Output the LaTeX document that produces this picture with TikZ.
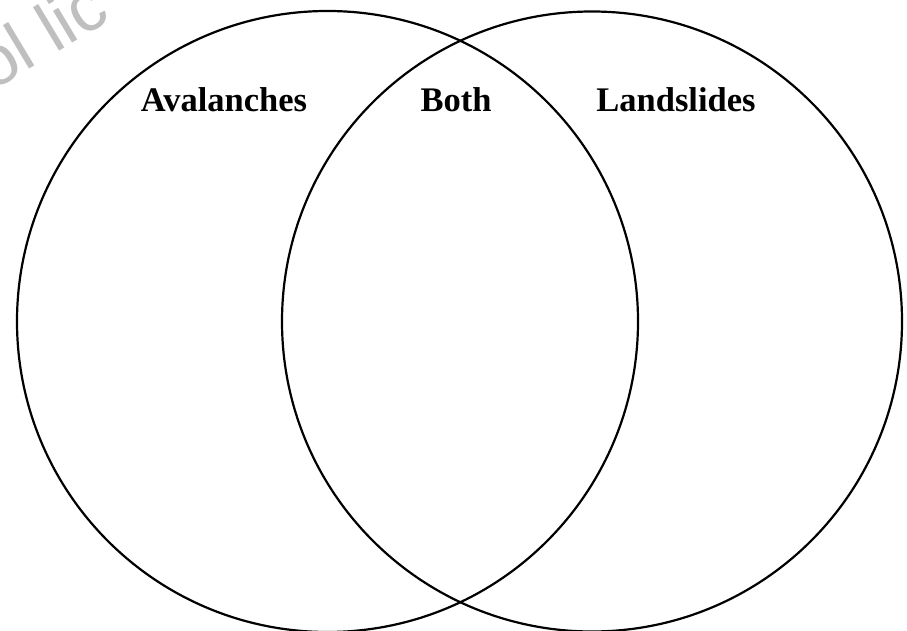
\documentclass[tikz,border=0pt]{standalone}
\usepackage{fontspec}
\setmainfont{Liberation Serif}
\newfontfamily\wmfont{Liberation Sans}
\begin{document}
\begin{tikzpicture}[x=1pt,y=-1pt,
  ring/.style={draw=black,line width=2.2pt},
  setlabel/.style={font=\fontsize{34.5}{40}\selectfont\bfseries,anchor=base,inner sep=0pt},
  watermark/.style={font=\wmfont\fontsize{70}{74}\selectfont,text=black!25,anchor=base west,inner sep=0pt,rotate=31}]
\useasboundingbox (0,0) rectangle (907,631);
\node[watermark] (wm) at (-8,92) {ol lic};
\node[ring,circle,minimum size=621pt,inner sep=0pt] (left) at (327.5,321.5) {};
\node[ring,circle,minimum size=620pt,inner sep=0pt] (right) at (592,321.5) {};
\node[setlabel] (aval) at (224,112) {Avalanches};
\node[setlabel] (both) at (456,112) {Both};
\node[setlabel] (land) at (676,112) {Landslides};
\end{tikzpicture}
\end{document}
